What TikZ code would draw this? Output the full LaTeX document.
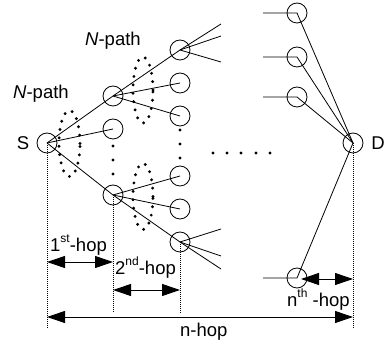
\documentclass[tikz,border=0pt]{standalone}
\usepackage{fontspec}
\setmainfont{Liberation Sans}
\usetikzlibrary{arrows.meta}
\newcommand\hopsup[1]{\raisebox{0.5em}{\fontsize{12}{12}\selectfont #1}}
\begin{document}
\begin{tikzpicture}[x=1pt,y=-1pt,
  nd/.style={draw,circle,minimum size=20pt,inner sep=0pt,line width=0.8pt},
  ln/.style={line width=0.8pt},
  vd/.style={line width=0.9pt,dash pattern=on 1pt off 1pt},
  dotell/.style={line width=3.2pt,line cap=round,dash pattern=on 0pt off 8.4pt},
  dotmark/.style={circle,fill,inner sep=0pt,minimum size=3.2pt},
  lbl/.style={font=\fontsize{18.5}{21}\selectfont,inner sep=0pt,anchor=base west},
  dbl/.style={line width=0.9pt,{Triangle[length=18pt,width=12pt]}-{Triangle[length=18pt,width=12pt]}},
]
\useasboundingbox (0,0) rectangle (386,347);
% nodes
\node[nd] (S) at (47,143) {};
\node[nd] (A) at (113,96) {};
\node[nd] (B) at (113,129) {};
\node[nd] (C) at (113,195) {};
\node[nd] (A1) at (180,50) {};
\node[nd] (A2) at (180,83) {};
\node[nd] (A3) at (180,116) {};
\node[nd] (C1) at (180,176) {};
\node[nd] (C2) at (180,209) {};
\node[nd] (C3) at (180,242) {};
\node[nd] (R1) at (297,13) {};
\node[nd] (R2) at (297,57) {};
\node[nd] (R3) at (297,97) {};
\node[nd] (R4) at (297,278) {};
\node[nd] (D) at (353,143) {};
% labels
\node[lbl,anchor=base] (Slbl) at (23,150) {S};
\node[lbl,anchor=base] (Dlbl) at (378,150) {D};
\node[lbl] (np1) at (13,99) {\textit{N}-path};
\node[lbl] (np2) at (85,46) {\textit{N}-path};
% connectors
\draw[ln] (S.center) -- (A.center) -- (A1.center);
\draw[ln] (S.center) -- (B.center);
\draw[ln] (S.center) -- (C.center) -- (C3.center);
\draw[ln] (A.center) -- (A2.center);
\draw[ln] (A.center) -- (A3.center);
\draw[ln] (C.center) -- (C1.center);
\draw[ln] (C.center) -- (C2.center);
\coordinate (f1) at (221,24);
\coordinate (f2) at (221,36);
\coordinate (f3) at (221,62);
\coordinate (g1) at (221,229);
\coordinate (g2) at (221,256);
\coordinate (g3) at (221,269);
\draw[ln] (A1.center) -- (f1);
\draw[ln] (A1.center) -- (f2);
\draw[ln] (A1.center) -- (f3);
\draw[ln] (C3.center) -- (g1);
\draw[ln] (C3.center) -- (g2);
\draw[ln] (C3.center) -- (g3);
\coordinate (h1) at (263,13);
\coordinate (h2) at (263,57);
\coordinate (h3) at (263,97);
\coordinate (h4) at (263,278);
\draw[ln] (h1) -- (R1.center) -- (D.center);
\draw[ln] (h2) -- (R2.center) -- (D.center);
\draw[ln] (h3) -- (R3.center) -- (D.center);
\draw[ln] (h4) -- (R4.center) -- (D.center);
% dotted ellipses
\draw[dotell] (69.5,143.5) ellipse [x radius=10.5pt, y radius=33pt];
\draw[dotell] (143,90) ellipse [x radius=10pt, y radius=33pt];
\draw[dotell] (143,196.5) ellipse [x radius=10pt, y radius=33pt];
% dot columns
\foreach \yy in {146,160,174} \node[dotmark] at (113,\yy) {};
\foreach \yy in {130,144,158} \node[dotmark] at (180,\yy) {};
\foreach \xx in {213,227,241,256,270} \node[dotmark] at (\xx,153) {};
% vertical dashed lines
\coordinate (sb) at (47,328);
\coordinate (cb) at (113,313);
\coordinate (c3b) at (180,313);
\coordinate (db) at (353,328);
\draw[vd] (S.center) -- (sb);
\draw[vd] (C.center) -- (cb);
\draw[vd] (C3.center) -- (c3b);
\draw[vd] (D.center) -- (db);
% hop arrows
\coordinate (h1a) at (47,262);
\coordinate (h1b) at (113,262);
\coordinate (h2a) at (113,290);
\coordinate (h2b) at (180,290);
\coordinate (hna) at (301,279);
\coordinate (hnb) at (353,279);
\coordinate (nha) at (47,317);
\coordinate (nhb) at (353,317);
\draw[dbl] (h1a) -- (h1b);
\draw[dbl] (h2a) -- (h2b);
\draw[dbl] (hna) -- (hnb);
\draw[dbl] (nha) -- (nhb);
\node[lbl] (l1) at (50,252) {1\hopsup{st}-hop};
\node[lbl] (l2) at (115,275) {2\hopsup{nd}-hop};
\node[lbl] (ln) at (287,307) {n\hopsup{th} -hop};
\node[lbl] (lnh) at (180,337) {n-hop};
\end{tikzpicture}
\end{document}
